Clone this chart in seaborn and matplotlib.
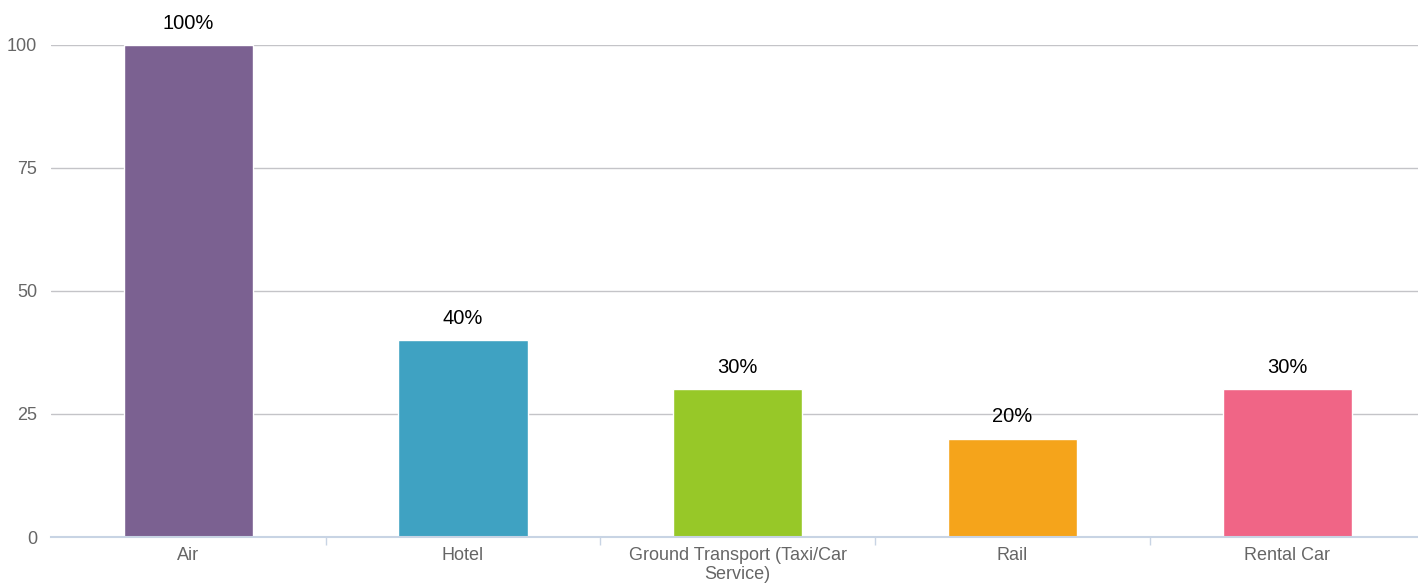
import matplotlib
matplotlib.use("Agg")
import matplotlib.pyplot as plt
import seaborn as sns
import pandas as pd
import numpy as np

# Data
categories = ["Air", "Hotel", "Ground Transport (Taxi/Car\nService)", "Rail", "Rental Car"]
values = [100, 40, 30, 20, 30]
colors = ["#7b6191", "#3fa2c2", "#97c828", "#f5a41b", "#f06586"]
yticks = [0, 25, 50, 75, 100]

df = pd.DataFrame({"category": categories, "value": values})

sns.set_style("white")
plt.rcParams['font.family'] = ['Liberation Sans', 'DejaVu Sans']

fig = plt.figure(figsize=(14.18, 5.83), dpi=100)
ax = fig.add_axes([51 / 1418, 1 - 537 / 583, 1373.5 / 1418, (537 - 45) / 583])

sns.barplot(data=df, x="category", y="value", hue="category", palette=colors,
            saturation=1, width=0.47, edgecolor="white", linewidth=1,
            legend=False, ax=ax, zorder=3)

# value labels
for i, v in enumerate(values):
    ax.text(i, v + 2.5, f"{v}%", ha="center", va="bottom", fontsize=14.5,
            color="black", clip_on=False)

ax.set_ylim(0, 100)
ax.set_xlim(-0.5, len(categories) - 0.5)
ax.set_yticks(yticks)
ax.set_yticklabels([str(t) for t in yticks])
ax.yaxis.grid(True, color="#c4c4c8", linewidth=1, zorder=0)
ax.set_axisbelow(True)

ax.set_xlabel("")
ax.set_ylabel("")
ax.tick_params(axis="x", which="major", length=0, pad=7, labelsize=13, labelcolor="#666666")
ax.tick_params(axis="y", length=0, pad=10, labelsize=13, labelcolor="#666666")

# tick marks at category boundaries
ax.set_xticks(np.arange(0.5, len(categories) - 0.5, 1), minor=True)
ax.tick_params(axis="x", which="minor", bottom=True, length=6, width=1,
               color="#c8d4e4", direction="out")

for s in ["top", "right", "left"]:
    ax.spines[s].set_visible(False)
ax.spines["bottom"].set_color("#c8d4e4")
ax.spines["bottom"].set_linewidth(1.5)
ax.spines["bottom"].set_zorder(4)

fig.savefig("out.png", dpi=100)
